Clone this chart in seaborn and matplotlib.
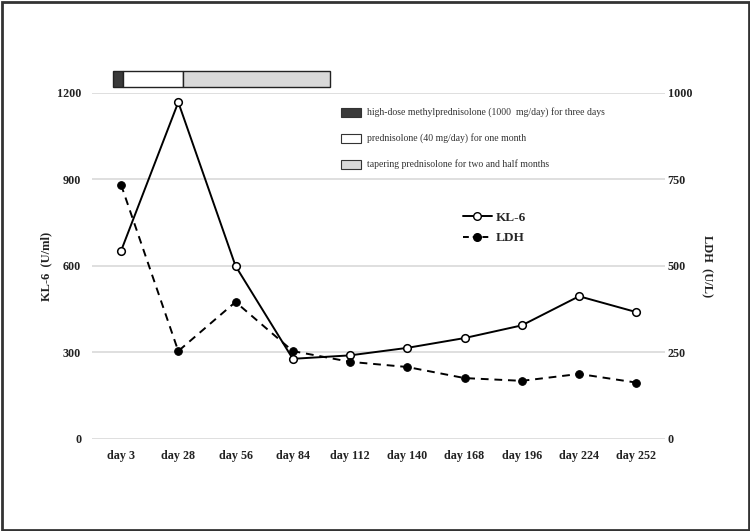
import matplotlib
matplotlib.use("Agg")
import matplotlib.pyplot as plt
import matplotlib.transforms as mtransforms
from matplotlib.patches import Rectangle
from matplotlib.lines import Line2D
import seaborn as sns
import pandas as pd

days = ["day 3", "day 28", "day 56", "day 84", "day 112", "day 140",
        "day 168", "day 196", "day 224", "day 252"]
kl6 = [652, 1168, 600, 278, 290, 316, 350, 394, 495, 440]
ldh = [735, 254, 396, 254, 223, 208, 176, 168, 188, 163]

kl6_ticks = [0, 300, 600, 900, 1200]
ldh_ticks = [0, 250, 500, 750, 1000]

treat_labels = ["high-dose methylprednisolone (1000  mg/day) for three days",
                "prednisolone (40 mg/day) for one month",
                "tapering prednisolone for two and half months"]
treat_colors = ["#3a3a3a", "#ffffff", "#d9d9d9"]
# treatment segment edges in category units
treat_edges = [-0.14, 0.035, 1.08, 3.65]

sns.set_theme(style="whitegrid")
plt.rcParams["font.family"] = ["Liberation Serif", "DejaVu Serif"]

df = pd.DataFrame({"day": days, "KL-6": kl6, "LDH": ldh})

fig = plt.figure(figsize=(7.5, 5.31), dpi=100)
ax = fig.add_axes([0.1232, 0.1733, 0.7634, 0.6516])
ax2 = ax.twinx()

sns.lineplot(data=df, x="day", y="KL-6", ax=ax, sort=False, color="black",
             linewidth=1.4, marker="o", markersize=5.5,
             markerfacecolor="white", markeredgecolor="black", markeredgewidth=1.1)
sns.lineplot(data=df, x="day", y="LDH", ax=ax2, sort=False, color="black",
             linewidth=1.4, linestyle=(0, (4, 3)), marker="o", markersize=5.5,
             markerfacecolor="black", markeredgecolor="black")

ax.set_ylim(0, 1200)
ax2.set_ylim(0, 1000)
ax.set_xlim(-0.5, len(days) - 0.5)
ax.set_yticks(kl6_ticks)
ax2.set_yticks(ldh_ticks)
ax.set_yticklabels([str(t) for t in kl6_ticks])
ax2.set_yticklabels([str(t) for t in ldh_ticks])

for a in (ax, ax2):
    for s in a.spines.values():
        s.set_visible(False)
    a.tick_params(length=0, labelsize=8.7)
    for lab in a.get_xticklabels() + a.get_yticklabels():
        lab.set_fontweight("bold")
        lab.set_color("#222222")
ax.tick_params(axis="y", pad=8)
ax2.tick_params(axis="y", pad=2)
ax.tick_params(axis="x", pad=8)
ax.grid(axis="y", color="#d9d9d9", linewidth=1.2)
ax.grid(axis="x", visible=False)
ax2.grid(False)

ax.set_xlabel("")
ax.set_ylabel("KL-6  (U/ml)", fontsize=9, fontweight="bold", labelpad=3, color="#222222")
ax2.set_ylabel("LDH  (U/L)", fontsize=9, fontweight="bold", rotation=-90,
               labelpad=15, color="#222222")

# treatment bar above plot
trans = mtransforms.blended_transform_factory(ax.transData, ax.transAxes)
for i in range(3):
    ax.add_patch(Rectangle((treat_edges[i], 1.017), treat_edges[i + 1] - treat_edges[i], 0.046,
                           transform=trans, facecolor=treat_colors[i], edgecolor="#222222",
                           linewidth=1.0, clip_on=False, zorder=5))

# treatment legend
ys = [112, 138, 164]
for lab, col, yp in zip(treat_labels, treat_colors, ys):
    fy = 1 - yp / 531
    fig.patches.append(Rectangle((341 / 750, fy - 4.5 / 531), 20 / 750, 9 / 531,
                                 transform=fig.transFigure, facecolor=col,
                                 edgecolor="#333333", linewidth=0.8))
    fig.text(367 / 750, fy, lab, fontsize=7, va="center", ha="left", color="#333333")

# line legend
handles = [Line2D([], [], color="black", linewidth=1.4, marker="o", markersize=5.5,
                  markerfacecolor="white", markeredgecolor="black"),
           Line2D([], [], color="black", linewidth=1.4, linestyle=(0, (3, 2)), marker="o",
                  markersize=5.5, markerfacecolor="black")]
leg = fig.legend(handles, ["KL-6", "LDH"], loc="center left",
                 bbox_to_anchor=(451 / 750, 1 - 228 / 531), frameon=False,
                 prop={"weight": "bold", "size": 9.5}, handlelength=2.2,
                 handletextpad=0.3, labelspacing=0.6)

# frame around figure
fig.patches.append(Rectangle((0.002, 0.002), 0.996, 0.995, transform=fig.transFigure,
                             fill=False, edgecolor="#333333", linewidth=2.0))

fig.savefig("out.png", dpi=100)
